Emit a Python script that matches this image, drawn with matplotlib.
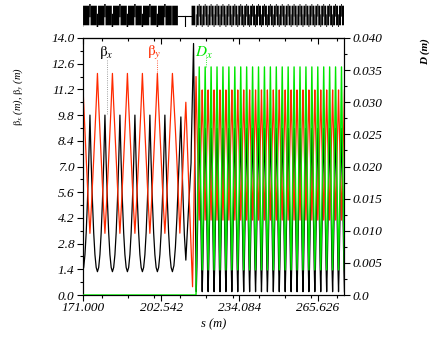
import numpy as np
import matplotlib.pyplot as plt
from matplotlib.ticker import MultipleLocator, FixedLocator, FuncFormatter, NullFormatter

plt.rcParams['font.family'] = 'Liberation Serif'
plt.rcParams['mathtext.fontset'] = 'stix'

RED = '#ff2a00'
GREEN = '#00e600'

# s range and ticks (m)
s_min, s_max = 171.0, 276.14
s_ticks = [171.000, 202.542, 234.084, 265.626]

# left arc, one cell (fractions of the cell length)
left_start, left_len, left_n = 170.9, 6.03, 6
left_frac = [0.0, 0.083, 0.167, 0.25, 0.333, 0.417, 0.5, 0.583, 0.667, 0.75, 0.833, 0.917, 1.0]
left_bx = [1.27, 1.5, 2.2, 3.4, 5.1, 7.2, 9.8, 7.2, 5.1, 3.4, 2.2, 1.5, 1.27]
left_by = [12.07, 10.4, 8.9, 7.4, 6.0, 4.6, 3.36, 4.6, 6.0, 7.4, 8.9, 10.4, 12.07]

# matching section
match_bx_s = [207.1, 207.7, 208.3, 208.9, 209.5, 210.5, 211.2, 211.9, 212.5, 213.5, 214.6, 214.7, 215.6, 216.7]
match_bx = [1.27, 1.6, 2.6, 4.2, 6.3, 9.7, 6.0, 3.3, 1.9, 4.5, 7.2, 8.1, 13.7, 0.18]
match_by_s = [207.1, 207.6, 208.3, 209.0, 209.6, 210.1, 211.3, 212.5, 213.8, 215.2, 216.6]
match_by = [12.07, 10.8, 9.0, 7.0, 5.0, 3.37, 7.0, 10.5, 5.5, 0.45, 11.9]

# right arc cell
right_start, right_len, right_n = 216.7, 2.385, 25
right_frac = [0.0, 0.1, 0.25, 0.4, 0.5, 0.6, 0.75, 0.9, 1.0]
right_bx = [0.18, 1.5, 4.4, 7.6, 9.08, 7.6, 4.4, 1.5, 0.18]
right_by = [11.17, 9.6, 7.6, 5.4, 4.08, 5.4, 7.6, 9.6, 11.17]
right_dx = [0.0039, 0.009, 0.017, 0.028, 0.0355, 0.028, 0.017, 0.009, 0.0039]

# dispersion is zero before the right arc
dx_flat_s = [171.0, 216.6]
dx_flat = [0.0, 0.0]

# lattice elements per cell: (start frac, end frac, bottom, top)
left_elems = [(-0.05, 0.05, -1.0, 0.15),
              (0.04, 0.46, -0.85, 0.85),
              (0.45, 0.55, -0.15, 1.0),
              (0.54, 0.96, -0.85, 0.85)]
right_elems = [(-0.07, 0.07, -1.0, 0.1),
               (0.08, 0.42, -0.85, 0.85),
               (0.43, 0.57, -0.1, 1.0),
               (0.58, 0.92, -0.85, 0.85)]
extra_blocks = [(207.0, 209.3), (214.8, 216.3)]
mid_line = (209.3, 214.8)
mid_elem_s = 212.3


def tile(start, length, n, frac, vals):
    s, v = [], []
    for k in range(n):
        s += [start + length * (k + f) for f in frac]
        v += list(vals)
    return np.array(s), np.array(v)


ls_bx, lv_bx = tile(left_start, left_len, left_n, left_frac, left_bx)
ls_by, lv_by = tile(left_start, left_len, left_n, left_frac, left_by)
rs_bx, rv_bx = tile(right_start, right_len, right_n, right_frac, right_bx)
rs_by, rv_by = tile(right_start, right_len, right_n, right_frac, right_by)
rs_dx, rv_dx = tile(right_start, right_len, right_n, right_frac, right_dx)

s_bx = np.concatenate([ls_bx, match_bx_s, rs_bx])
bx = np.concatenate([lv_bx, match_bx, rv_bx])
s_by = np.concatenate([ls_by, match_by_s, rs_by])
by = np.concatenate([lv_by, match_by, rv_by])
s_dx = np.concatenate([dx_flat_s, rs_dx])
dx = np.concatenate([dx_flat, rv_dx])

fig = plt.figure(figsize=(4.32, 3.37), dpi=100)
L, R, B, T = 82.7, 344.0, 295.0, 38.0
ax = fig.add_axes([L / 432, (337 - B) / 337, (R - L) / 432, (B - T) / 337])
ax2 = ax.twinx()

ax.plot(s_bx, bx, color='black', lw=0.9, zorder=2)
ax.plot(s_by, by, color=RED, lw=0.9, zorder=3)
ax2.plot(s_dx, dx, color=GREEN, lw=1.0, zorder=4)

ax.set_xlim(s_min, s_max)
ax.set_ylim(0, 14)
ax2.set_ylim(0, 0.04)

ax.xaxis.set_major_locator(FixedLocator(s_ticks))
ax.xaxis.set_minor_locator(MultipleLocator(31.542 / 3))
ax.xaxis.set_major_formatter(FuncFormatter(lambda v, p: '%.3f' % v))
ax.yaxis.set_major_locator(MultipleLocator(1.4))
ax.yaxis.set_minor_locator(MultipleLocator(0.7))
ax.yaxis.set_major_formatter(FuncFormatter(lambda v, p: '%.1f' % v))
ax2.yaxis.set_major_locator(MultipleLocator(0.005))
ax2.yaxis.set_minor_locator(MultipleLocator(0.0025))
ax2.yaxis.set_major_formatter(FuncFormatter(lambda v, p: '0.0' if abs(v) < 1e-9 else '%.3f' % v))

ax.tick_params(which='both', direction='out', pad=2)
ax.tick_params(axis='x', pad=1)
ax.tick_params(which='major', length=4, width=0.8)
ax.tick_params(which='minor', length=2.5, width=0.8)
ax2.tick_params(which='major', length=4, width=0.8, direction='out', pad=2)
ax2.tick_params(which='minor', length=2.5, width=0.8, direction='out')

# inward ticks on the top edge
top = ax.secondary_xaxis('top')
top.xaxis.set_major_locator(FixedLocator(s_ticks))
top.xaxis.set_minor_locator(MultipleLocator(31.542 / 3))
top.xaxis.set_major_formatter(NullFormatter())
top.tick_params(which='major', direction='in', length=4, width=0.8)
top.tick_params(which='minor', direction='in', length=2.5, width=0.8)
top.spines['top'].set_linewidth(0.8)

for lab in ax.get_xticklabels() + ax.get_yticklabels() + ax2.get_yticklabels():
    lab.set_fontfamily('Liberation Serif')
    lab.set_fontstyle('italic')
    lab.set_fontsize(9.5)
for sp in list(ax.spines.values()) + list(ax2.spines.values()):
    sp.set_linewidth(0.8)

ax.set_xlabel('s (m)', fontsize=9, style='italic', labelpad=3)

fig.text(18 / 432, 1 - 97 / 337, r'$\mathrm{\beta}_x$ (m), $\mathrm{\beta}_y$ (m)',
         rotation=90, ha='center', va='center', fontsize=7.5, style='italic')
fig.text(425 / 432, 1 - 52 / 337, 'D (m)', rotation=90, ha='center', va='center',
         fontsize=8, style='italic', weight='bold')

# curve labels with dotted leaders
ax.text(180.4, 13.2, r'$\mathrm{\beta}_x$', color='black', fontsize=11, ha='center', va='center')
ax.plot([180.9, 180.9], [12.8, 9.8], color='gray', lw=0.6, ls=':')
ax.text(199.9, 13.2, r'$\mathrm{\beta}_y$', color=RED, fontsize=11, ha='center', va='center')
ax.plot([200.75, 200.75], [12.8, 12.07], color=RED, lw=0.6, ls=':')
ax2.text(219.6, 0.0377, r'$D_x$', color=GREEN, fontsize=11, ha='center', va='center')
ax2.plot([220.6, 220.6], [0.0373, 0.0355], color=GREEN, lw=0.6, ls=':')

# lattice strip
lat = fig.add_axes([L / 432, (337 - 27) / 337, (R - L) / 432, 23 / 337])
lat.set_xlim(s_min, s_max)
lat.set_ylim(-1, 1)
lat.axis('off')
for start, length, n, elems in [(left_start, left_len, left_n, left_elems),
                                (right_start, right_len, right_n, right_elems)]:
    for k in range(n):
        for f0, f1, y0, y1 in elems:
            a = start + length * (k + f0)
            b = start + length * (k + f1)
            lat.bar((a + b) / 2, y1 - y0, width=b - a, bottom=y0, color='black',
                    lw=0, snap=False)
for a, b in extra_blocks:
    lat.bar((a + b) / 2, 1.7, width=b - a, bottom=-0.85, color='black', lw=0, snap=False)
lat.plot(mid_line, [0, 0], color='black', lw=0.8)
lat.plot([mid_elem_s, mid_elem_s], [0, -1], color='black', lw=0.8)

fig.savefig('out.png', dpi=100)
